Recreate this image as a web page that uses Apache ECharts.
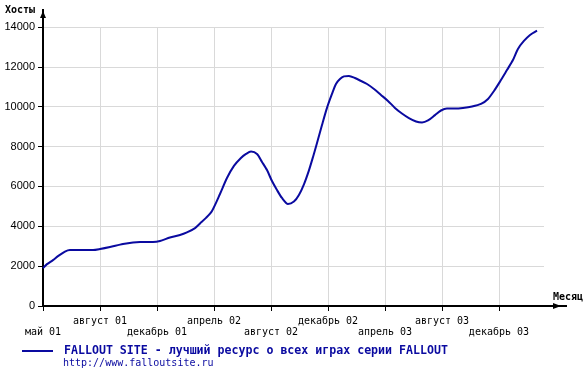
<!DOCTYPE html>
<html>
<head>
<meta charset="utf-8">
<script src="https://cdn.jsdelivr.net/npm/echarts@6/dist/echarts.min.js"></script>
<style>
    html, body { margin: 0; padding: 0; background: #fff; }
    #main { width: 588px; height: 376px; }
</style>
</head>
<body>
<div id="main"></div>
<script>
// месяцы от мая 01 (по 4 на деление шкалы)
var monthLabels = ['май 01', 'август 01', 'декабрь 01', 'апрель 02', 'август 02', 'декабрь 02', 'апрель 03', 'август 03', 'декабрь 03'];
var months = [0, 0.28, 0.7, 1.05, 1.54, 1.89, 2.6, 3.51, 4.0, 4.7, 5.61, 6.32, 6.81, 7.72, 8.21, 8.91, 9.61, 10.1, 10.67, 11.02, 11.44, 11.86, 12.42, 12.91, 13.4, 13.89, 14.25, 14.6, 15.02, 15.37, 15.72, 16.07, 16.42, 16.77, 17.19, 17.61, 17.96, 18.32, 18.67, 18.95, 19.23, 19.58, 19.93, 20.28, 20.56, 20.84, 21.12, 21.47, 21.89, 22.32, 22.74, 23.23, 23.72, 24.21, 24.7, 25.19, 25.68, 26.18, 26.6, 27.02, 27.51, 27.93, 28.35, 28.91, 29.47, 30.11, 30.74, 31.23, 31.65, 32.07, 32.56, 32.98, 33.33, 33.75, 34.18, 34.67];
var hosts = [1900, 2100, 2300, 2500, 2730, 2810, 2810, 2810, 2860, 2960, 3110, 3190, 3210, 3210, 3260, 3440, 3560, 3690, 3910, 4140, 4420, 4770, 5620, 6420, 7030, 7430, 7630, 7750, 7630, 7230, 6820, 6270, 5820, 5420, 5120, 5240, 5570, 6120, 6820, 7480, 8180, 9080, 9940, 10640, 11140, 11390, 11520, 11540, 11440, 11290, 11140, 10890, 10590, 10290, 9940, 9660, 9430, 9260, 9210, 9310, 9580, 9810, 9910, 9910, 9940, 10010, 10140, 10390, 10790, 11260, 11840, 12340, 12900, 13300, 13600, 13820];
var seriesName = 'FALLOUT SITE - лучший ресурс о всех играх серии FALLOUT';
var siteUrl = 'http://www.falloutsite.ru';

var blue = '#0a0aa0';
var mono = '"DejaVu Sans Mono", "Liberation Mono", monospace';

var myChart = echarts.init(document.getElementById('main'));
var option = {
    animation: false,
    title: {
        text: siteUrl,
        left: 63,
        top: 358,
        padding: 0,
        textStyle: { fontFamily: mono, fontSize: 10, fontWeight: 'normal', color: blue }
    },
    legend: {
        left: 22,
        top: 345,
        padding: 0,
        itemWidth: 31,
        itemHeight: 12,
        itemGap: 0,
        data: [{ name: seriesName, icon: 'path://M0,5 L31,5 L31,7 L0,7 Z' }],
        textStyle: { fontFamily: mono, fontSize: 11.6, fontWeight: 'bold', color: blue, padding: [0, 0, 0, 6] }
    },
    grid: { left: 43, right: 44, top: 27, bottom: 70, containLabel: false },
    xAxis: {
        type: 'value',
        min: 0,
        max: 35.16,
        interval: 4,
        axisLine: { lineStyle: { color: '#000', width: 2 } },
        axisTick: { length: 5, lineStyle: { color: '#000', width: 1 } },
        axisLabel: {
            margin: 10,
            lineHeight: 11,
            fontFamily: mono,
            fontSize: 10,
            color: '#000',
            showMaxLabel: false,
            formatter: function (v) {
                var i = Math.round(v / 4);
                var s = monthLabels[i] || '';
                return i % 2 === 0 ? '\n' + s : s;
            }
        },
        splitLine: { show: true, showMinLine: false, showMaxLine: false, lineStyle: { color: '#d9d9d9', width: 1 } }
    },
    yAxis: {
        type: 'value',
        min: 0,
        max: 14000,
        interval: 2000,
        axisLine: { show: true, lineStyle: { color: '#000', width: 2 } },
        axisTick: { show: true, length: 5, lineStyle: { color: '#000', width: 1 } },
        axisLabel: {
            margin: 8,
            fontFamily: '"Liberation Sans", Arial, sans-serif',
            fontSize: 11,
            color: '#000',
            formatter: function (v) { return String(v); }
        },
        splitLine: { show: true, showMinLine: false, lineStyle: { color: '#d9d9d9', width: 1 } }
    },
    graphic: [
        // продолжение осей со стрелками
        { type: 'line', shape: { x1: 43, y1: 27, x2: 43, y2: 9 }, style: { stroke: '#000', lineWidth: 2 } },
        { type: 'polygon', shape: { points: [[43, 11], [40, 18], [46, 18]] }, style: { fill: '#000' } },
        { type: 'line', shape: { x1: 544, y1: 306, x2: 567, y2: 306 }, style: { stroke: '#000', lineWidth: 2 } },
        { type: 'polygon', shape: { points: [[561, 306], [553, 303], [553, 309]] }, style: { fill: '#000' } },
        { type: 'text', left: 5, top: 5, style: { text: 'Хосты', font: 'bold 10px ' + mono, fill: '#000' } },
        { type: 'text', left: 553, top: 292, style: { text: 'Месяц', font: 'bold 10px ' + mono, fill: '#000' } }
    ],
    series: [
        {
            name: seriesName,
            type: 'line',
            data: months.map(function (m, i) { return [m, hosts[i]]; }),
            showSymbol: false,
            smooth: 0.25,
            lineStyle: { color: blue, width: 2 },
            itemStyle: { color: blue }
        }
    ]
};
myChart.setOption(option);
</script>
</body>
</html>
